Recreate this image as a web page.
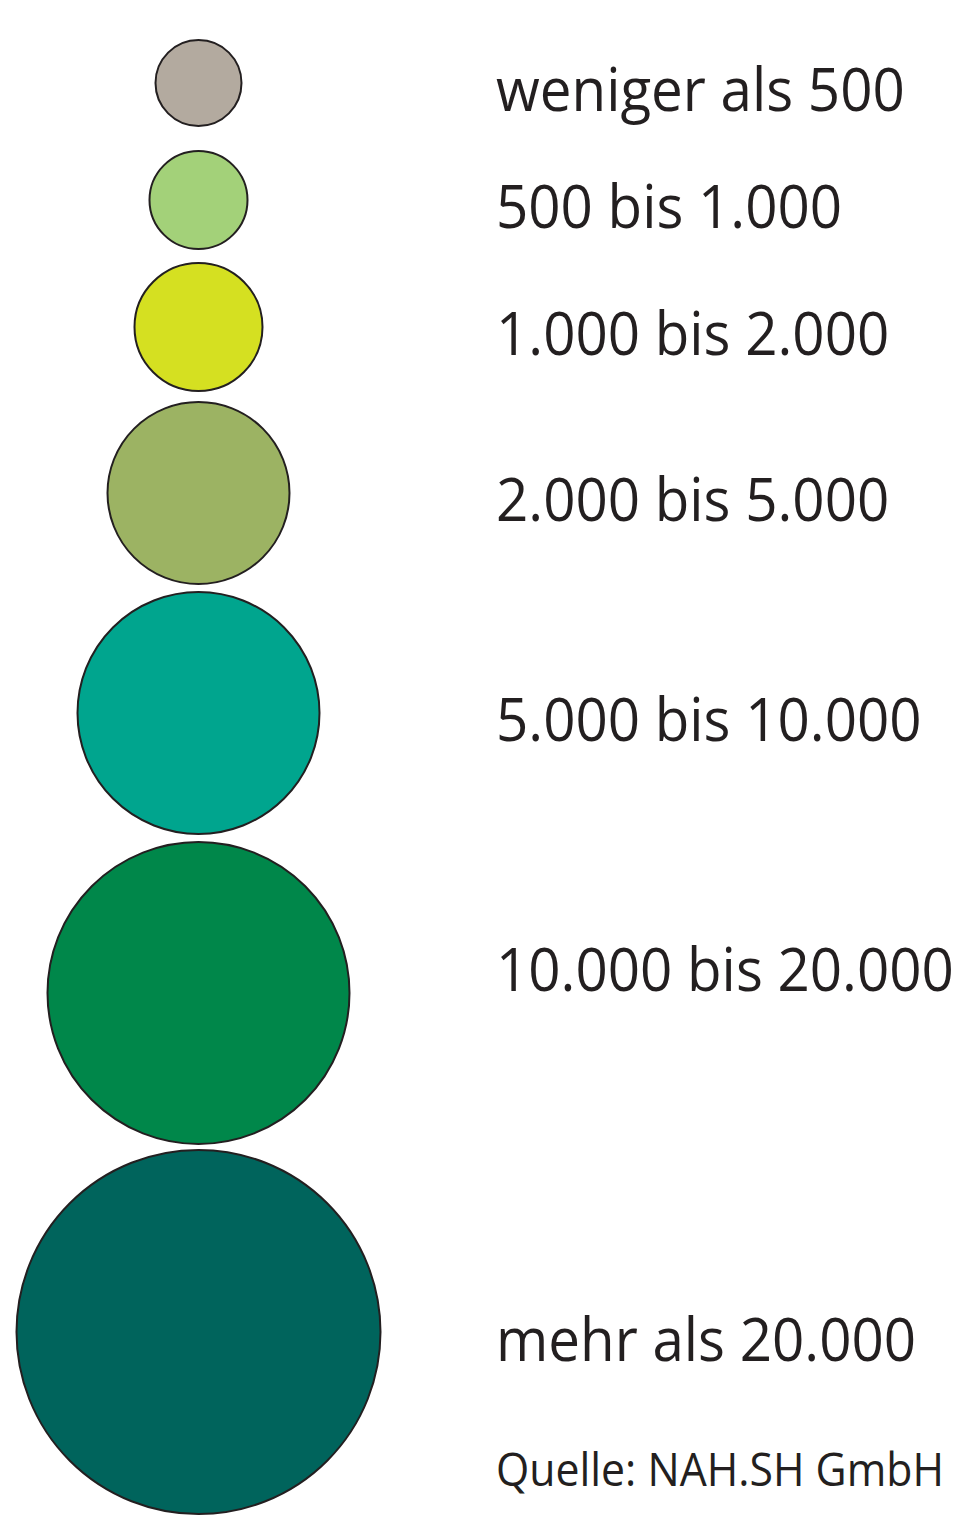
<!DOCTYPE html>
<html>
<head>
<meta charset="utf-8">
<script src="https://cdn.jsdelivr.net/npm/d3@7"></script>
<style>
  body { margin: 0; background: #fff; }
  svg { display: block; }
</style>
</head>
<body>
<div id="chart"></div>
<script>
var labels = [
  "weniger als 500",
  "500 bis 1.000",
  "1.000 bis 2.000",
  "2.000 bis 5.000",
  "5.000 bis 10.000",
  "10.000 bis 20.000",
  "mehr als 20.000"
];
var radii = [43, 49, 64, 91, 121, 151, 182];
var colors = ["#b3aa9f", "#a3d179", "#d5e021", "#9cb363", "#00a58e", "#00874a", "#00645c"];
var source = "Quelle: NAH.SH GmbH";

var svgWidth = 972;
var svgHeight = 1525;

// layout: space between circles and label offsets from circle centre
var topY = 40;
var cx = 198.5;
var gaps = [0, 25, 14, 11, 8, 8, 6];
var labelDy = [28, 28, 28, 28, 28, -2, 29];
var labelX = 496;

var svg = d3
  .select("#chart")
  .append("svg")
  .attr("width", svgWidth)
  .attr("height", svgHeight);

var data = labels.map(function (d, i) {
  return { label: d, r: radii[i], color: colors[i] };
});

data.forEach(function (d, i) {
  if (i === 0) {
    d.cy = topY + d.r;
  } else {
    d.cy = data[i - 1].cy + data[i - 1].r + gaps[i] + d.r;
  }
});

svg
  .selectAll(".dot")
  .data(data)
  .enter()
  .append("circle")
  .attr("class", "dot")
  .attr("cx", cx)
  .attr("cy", (d) => d.cy)
  .attr("r", (d) => d.r)
  .attr("fill", (d) => d.color)
  .attr("stroke", "#231f20")
  .attr("stroke-width", 2);

svg
  .selectAll(".label")
  .data(data)
  .enter()
  .append("text")
  .attr("class", "label")
  .attr("transform", (d, i) => `translate(${labelX}, ${d.cy + labelDy[i]}) scale(0.942, 1)`)
  .attr("font-family", "'Open Sans', sans-serif")
  .attr("font-size", 60)
  .attr("fill", "#231f20")
  .text((d) => d.label);

svg
  .append("text")
  .attr("transform", `translate(${labelX}, 1486) scale(0.93, 1)`)
  .attr("font-family", "'Open Sans', sans-serif")
  .attr("font-size", 46)
  .attr("fill", "#231f20")
  .text(source);
</script>
</body>
</html>
